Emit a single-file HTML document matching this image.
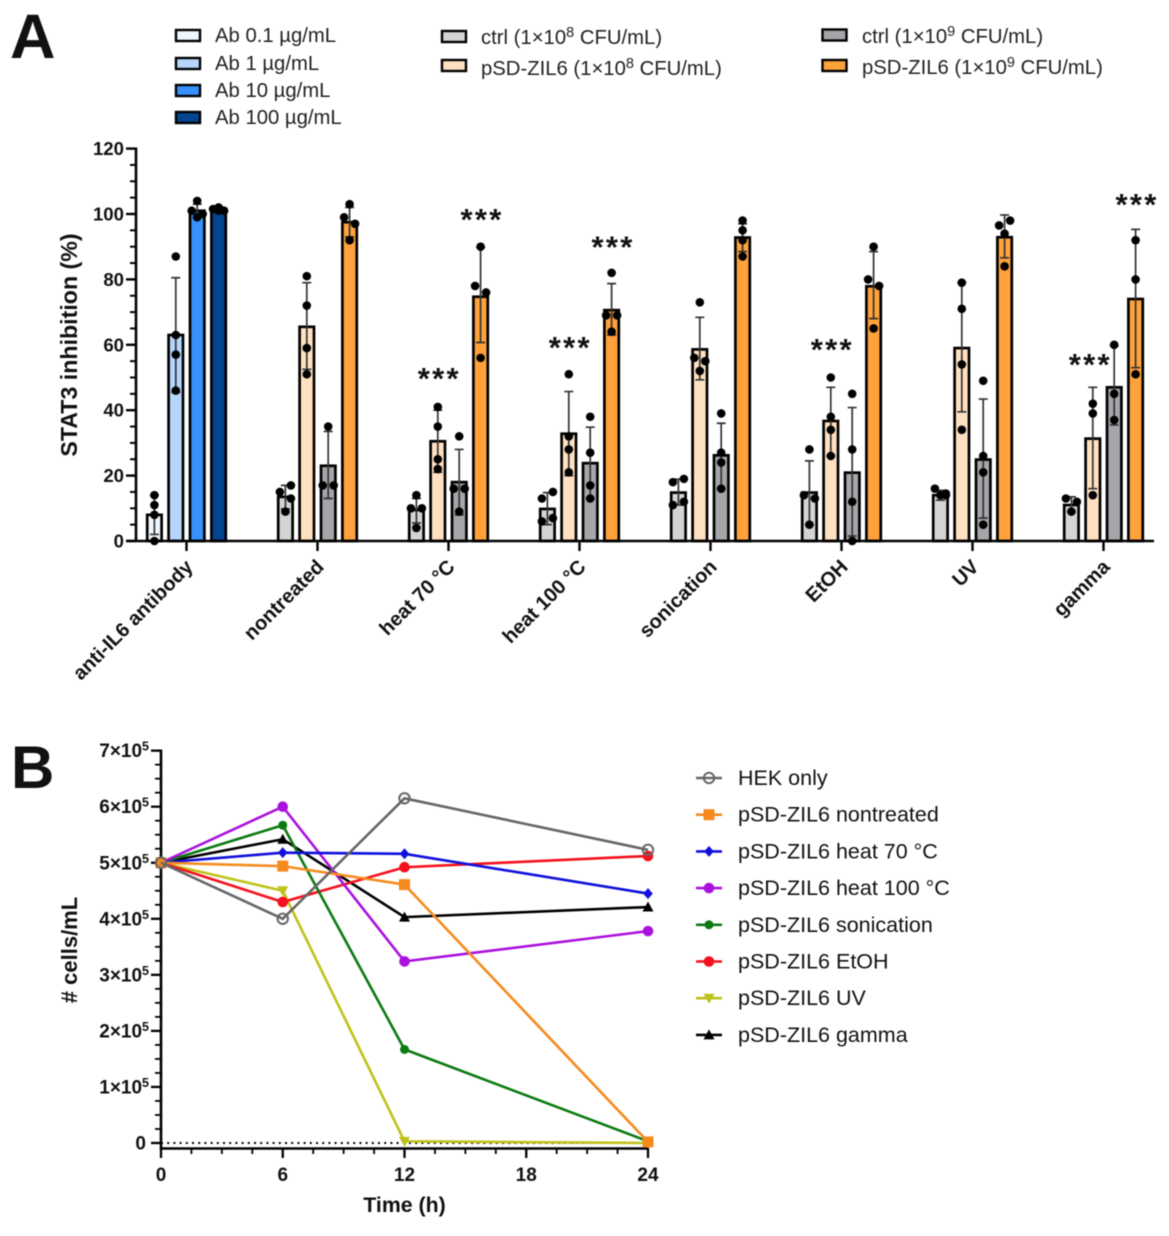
<!DOCTYPE html>
<html lang="en">
<head>
<meta charset="utf-8">
<title>STAT3 inhibition and cell counts</title>
<style>
html,body{margin:0;padding:0;background:#fff;width:1169px;height:1236px;overflow:hidden}
svg{display:block;filter:blur(0.6px)}
text{font-family:"Liberation Sans",sans-serif;fill:#111}
.b{font-weight:bold}
.lg{font-size:20.3px;fill:#222}
</style>
</head>
<body>
<svg id="fig" xmlns="http://www.w3.org/2000/svg" width="1169" height="1236" viewBox="0 0 1169 1236">
  <text class="b" x="10" y="58" font-size="63">A</text>
  <text class="b" x="11" y="788" font-size="60">B</text>

  <g stroke="#000" stroke-width="2.4">
    <rect x="176" y="30" width="24" height="11" fill="#eef6fd"/>
    <rect x="176" y="58" width="24" height="11" fill="#b5d5fb"/>
    <rect x="176" y="85" width="24" height="11" fill="#3790fb"/>
    <rect x="176" y="112" width="24" height="11" fill="#05458f"/>
    <rect x="442" y="31" width="24" height="11" fill="#d4d4d4"/>
    <rect x="442" y="60" width="24" height="11" fill="#ffe0c0"/>
    <rect x="822.5" y="29.5" width="24" height="11" fill="#a5a5aa"/>
    <rect x="822.5" y="60" width="24" height="11" fill="#ffa23c"/>
  </g>
  <g>
    <text class="lg" x="215" y="42">Ab 0.1 µg/mL</text>
    <text class="lg" x="215" y="70">Ab 1 µg/mL</text>
    <text class="lg" x="215" y="97">Ab 10 µg/mL</text>
    <text class="lg" x="215" y="124">Ab 100 µg/mL</text>
    <text class="lg" x="481" y="44">ctrl (1×10<tspan font-size="14.5" dy="-7">8</tspan><tspan dy="7"> CFU/mL)</tspan></text>
    <text class="lg" x="481" y="75">pSD-ZIL6 (1×10<tspan font-size="14.5" dy="-7">8</tspan><tspan dy="7"> CFU/mL)</tspan></text>
    <text class="lg" x="862" y="43">ctrl (1×10<tspan font-size="14.5" dy="-7">9</tspan><tspan dy="7"> CFU/mL)</tspan></text>
    <text class="lg" x="862" y="74">pSD-ZIL6 (1×10<tspan font-size="14.5" dy="-7">9</tspan><tspan dy="7"> CFU/mL)</tspan></text>
  </g>
  <g id="chartA"></g>
  <g id="chartB"></g>
  <g id="legendB"></g>
</svg>
<script>
/* ---------- Panel A data ---------- */
const categoriesA = ['anti-IL6 antibody','nontreated','heat 70 °C','heat 100 °C','sonication','EtOH','UV','gamma'];
const yTicksA = [0,20,40,60,80,100,120];
const barFillsAb = ['#eef6fd','#b5d5fb','#3790fb','#05458f'];
const barFillsTreated = ['#d4d4d4','#ffe0c0','#a5a5aa','#ffa23c'];
const barMeans = [
  [8,63,101,101.5],[13.5,65.5,23,97.5],[9.5,30.5,18,74.7],[9.8,32.8,23.8,70.6],
  [14.8,58.6,26.2,92.8],[14.8,36.7,20.9,77.9],[14,59,24.9,92.9],[11,31.3,47,74]
];
const errLow = [
  [2,45.5,99,100.8],[9.8,52.5,13,93],[5.5,21,8,60.7],[5,20,13,63],
  [11,49.3,16,88.5],[5,26,1.5,68],[12.5,39.5,7,86.6],[9,16,35.5,53]
];
const errHigh = [
  [14,80.5,103,102.2],[17,79,33.5,102],[13,40,28,89.8],[14.8,45.7,34.8,78.7],
  [18.9,68.4,36,97],[24.5,47,40.8,88.5],[15.5,79,43.4,99.7],[13.5,47,59.7,95.3]
];
const dotValues = [
  [[14,11,8,0],[87,63,57,46],[104,101,100,99],[102,101.5,101,101]],
  [[15,17,13,9],[81,72,59,51],[35,17,17],[103,99,97,92]],
  [[14,10,10,4],[41,35,25,22],[32,16,16,9],[90,78,76,56]],
  [[13,15,7,6],[51,32,28,21],[38,27,17,13],[82,69,69,64]],
  [[18,19,12,11],[73,56,55,52],[39,27,24,16],[98,95,92,87]],
  [[28,14,13,5],[50,38,34,26],[45,28,12,0],[90,80,78,65]],
  [[16,14.5,14,14],[79,71,54,34],[49,26,21,5],[96.5,98,94,84]],
  [[13,12,9],[42,39,14],[60,45,37],[92,80,51]]
];
/* swarm side of each dot: -1 left, 0 centre, 1 right */
const dotSides = [
  [[0,0,0,0],[0,0,0,0],[0,-1,1,0],[0,-1,1,0]],
  [[-1,1,1,0],[0,0,0,0],[0,-1,1],[0,-1,1,0]],
  [[0,-1,1,0],[0,0,0,0],[0,-1,1,0],[0,-1,1,0]],
  [[-1,1,1,-1],[0,0,0,0],[0,0,0,0],[0,-1,1,0]],
  [[-1,1,1,-1],[0,-1,1,0],[0,0,0,0],[0,0,0,0]],
  [[0,-1,1,0],[0,0,0,0],[0,0,0,0],[0,-1,1,0]],
  [[-1,1,0,1],[0,0,0,0],[0,0,0,0],[-1,1,0,0]],
  [[-1,1,0],[0,0,0],[0,0,0],[0,0,0]]
];
const starGroups = [2,2,3,3,5,7,7];
const starBars = [1,3,1,3,1,1,3];
const starValues = [50.8,99.4,60.2,91,59.6,55,104];

/* ---------- Panel B data ---------- */
const timePoints = [0,6,12,24];
const xTicksB = [0,6,12,18,24];
const yTicksB = [0,1,2,3,4,5,6,7];
const seriesNames = ['HEK only','pSD-ZIL6 nontreated','pSD-ZIL6 heat 70 °C','pSD-ZIL6 heat 100 °C','pSD-ZIL6 sonication','pSD-ZIL6 EtOH','pSD-ZIL6 UV','pSD-ZIL6 gamma'];
const seriesColors = ['#666666','#f58a1f','#1010dc','#aa11dd','#0c7a12','#f4101c','#bfc21a','#000000'];
const seriesMarkers = ['ring','square','diamond','circle','smallCircle','circle','triDown','triUp'];
const hekOnly = [5,4.0,6.15,5.23];
const nontreated = [5,4.94,4.61,0.02];
const heat70 = [5,5.18,5.16,4.45];
const heat100 = [5,6.0,3.24,3.78];
const sonication = [5,5.67,1.67,0.03];
const etoh = [5,4.3,4.92,5.12];
const uv = [5,4.5,0.03,0];
const gamma = [5,5.42,4.03,4.21];
const seriesValues = [hekOnly,nontreated,heat70,heat100,sonication,etoh,uv,gamma];

/* ---------- helpers ---------- */
const NS = 'http://www.w3.org/2000/svg';
function make(parent, tag, props, txt){
  const n = document.createElementNS(NS, tag);
  for (const k in props) n.setAttribute(k, props[k]);
  if (txt !== undefined) n.textContent = txt;
  parent.appendChild(n);
  return n;
}
const slug = s => s.toLowerCase().replace(/[^a-z0-9]+/g,'-').replace(/^-|-$/g,'');

/* ---------- Panel A ---------- */
const A = document.getElementById('chartA');
const yA = v => 541 - v * 3.27;
const groupX = g => 186.5 + g * 131;
const barX = (g,b) => groupX(g) + (b - 1.5) * 21.4;

barMeans.forEach((group, g) => {
  group.forEach((mean, b) => {
    const cx = barX(g,b);
    const fill = (g === 0 ? barFillsAb : barFillsTreated)[b];
    const bar = make(A,'rect',{x:cx-7.2,y:yA(mean),width:14.4,height:yA(0)-yA(mean),fill:fill,stroke:'#000','stroke-width':2.7});
    
    
    const err = make(A,'path',{d:`M${cx} ${yA(errLow[g][b])}V${yA(errHigh[g][b])}M${cx-4.5} ${yA(errLow[g][b])}h9M${cx-4.5} ${yA(errHigh[g][b])}h9`,fill:'none',stroke:'#333','stroke-width':1.7});
    
    
    dotValues[g][b].forEach((v, i) => {
      const dot = make(A,'circle',{cx:cx+dotSides[g][b][i]*5.5,cy:yA(v),r:4.3,fill:'#000'});
      
      
    });
  });
});

const xAxisA = make(A,'line',{x1:126,x2:1154,y1:541,y2:541,stroke:'#000','stroke-width':2.6});


const yAxisA = make(A,'line',{x1:136,x2:136,y1:147.5,y2:542,stroke:'#000','stroke-width':2.6});



yTicksA.forEach((v, i) => {
  const t = make(A,'line',{x1:126,x2:136,y1:yA(v),y2:yA(v),stroke:'#000','stroke-width':2.4});
  
  
  const l = make(A,'text',{x:124,y:yA(v)+6.5,'text-anchor':'end','font-size':18.6,'font-weight':'bold'},String(v));
  
  
  if (i < yTicksA.length - 1) {
    const step = (yTicksA[i+1] - v) / 4;
    [1,2,3].forEach(k => {
      const m = make(A,'line',{x1:130,x2:136,y1:yA(v+k*step),y2:yA(v+k*step),stroke:'#000','stroke-width':2});
      
      
    });
  }
});

categoriesA.forEach((c, g) => {
  const t = make(A,'line',{x1:groupX(g),x2:groupX(g),y1:541,y2:551,stroke:'#000','stroke-width':2.4});
  
  
  const px = groupX(g) + 7.5, py = 568;
  const l = make(A,'text',{x:px,y:py,'text-anchor':'end','font-size':20,'font-weight':'bold',transform:`rotate(-45 ${px} ${py})`},c);
  
  
});

const yTitleA = make(A,'text',{x:77,y:345,'text-anchor':'middle','font-size':23.2,'font-weight':'bold',transform:'rotate(-90 77 345)'},'STAT3 inhibition (%)');



starValues.forEach((v, i) => {
  const s = make(A,'text',{x:barX(starGroups[i],starBars[i])+1.5+(starGroups[i]===7&&starBars[i]===1?-4:0),y:yA(v)+14,'text-anchor':'middle','font-size':31,'font-weight':'bold','letter-spacing':'2.3px'},'***');
  
  
});

/* ---------- Panel B ---------- */
const B = document.getElementById('chartB');
const xB = t => 161 + t * (487 / 24);
const yB = v => 1143 - v * 56.05;

function marker(parent, kind, x, y, color){
  if (kind === 'ring') return make(parent,'circle',{cx:x,cy:y,r:5.2,fill:'none',stroke:color,'stroke-width':2});
  if (kind === 'square') return make(parent,'rect',{x:x-5.5,y:y-5.5,width:11,height:11,fill:color});
  if (kind === 'diamond') return make(parent,'path',{d:`M${x} ${y-5.5}L${x+4.8} ${y}L${x} ${y+5.5}L${x-4.8} ${y}Z`,fill:color});
  if (kind === 'circle') return make(parent,'circle',{cx:x,cy:y,r:5.3,fill:color});
  if (kind === 'smallCircle') return make(parent,'circle',{cx:x,cy:y,r:4.5,fill:color});
  if (kind === 'triDown') return make(parent,'path',{d:`M${x-5.5} ${y-4.5}H${x+5.5}L${x} ${y+5.5}Z`,fill:color});
  return make(parent,'path',{d:`M${x-5.5} ${y+4.5}H${x+5.5}L${x} ${y-5.5}Z`,fill:color});
}

const zeroLine = make(B,'line',{x1:xB(0),x2:xB(24),y1:yB(0),y2:yB(0),stroke:'#000','stroke-width':2,'stroke-dasharray':'2 4.2'});



const xAxisB = make(B,'line',{x1:161,x2:649,y1:1148.5,y2:1148.5,stroke:'#000','stroke-width':2.6});


const yAxisB = make(B,'line',{x1:161,x2:161,y1:yB(7)-1,y2:1149.5,stroke:'#000','stroke-width':2.6});



yTicksB.forEach((v, i) => {
  const t = make(B,'line',{x1:151,x2:161,y1:yB(v),y2:yB(v),stroke:'#000','stroke-width':2.3});
  
  
  const l = make(B,'text',{x:v===0?146:149,y:yB(v)+6.5,'text-anchor':'end','font-size':19,'font-weight':'bold'});
  
  
  if (v === 0) { l.textContent = '0'; }
  else {
    make(l,'tspan',{},v + '×10');
    make(l,'tspan',{'font-size':12.5,dy:-6.5},'5');
  }
  if (i < yTicksB.length - 1) {
    [0.25,0.5,0.75].forEach(k => {
      const m = make(B,'line',{x1:155,x2:161,y1:yB(v+k),y2:yB(v+k),stroke:'#000','stroke-width':1.8});
      
      
    });
  }
});

xTicksB.forEach((v, i) => {
  const t = make(B,'line',{x1:xB(v),x2:xB(v),y1:1148,y2:1158,stroke:'#000','stroke-width':2.3});
  
  
  const l = make(B,'text',{x:xB(v),y:1181,'text-anchor':'middle','font-size':19,'font-weight':'bold'},String(v));
  
  
  if (i < xTicksB.length - 1) {
    [0.25,0.5,0.75].forEach(k => {
      const tv = v + k * (xTicksB[i+1] - v);
      const m = make(B,'line',{x1:xB(tv),x2:xB(tv),y1:1148,y2:1154,stroke:'#000','stroke-width':1.8});
      
      
    });
  }
});

const yTitleB = make(B,'text',{x:77,y:950,'text-anchor':'middle','font-size':22,'font-weight':'bold',transform:'rotate(-90 77 950)'},'# cells/mL');


const xTitleB = make(B,'text',{x:404.5,y:1212,'text-anchor':'middle','font-size':21.3,'font-weight':'bold'},'Time (h)');



for (let s = seriesValues.length - 1; s >= 0; s--) {
  const vals = seriesValues[s];
  const g = make(B,'g',{});
  
  
  const line = make(g,'polyline',{points:vals.map((v,i)=>xB(timePoints[i])+','+yB(v)).join(' '),fill:'none',stroke:seriesColors[s],'stroke-width':2.6});
  
  
  vals.forEach((v,i) => {
    const p = marker(g, seriesMarkers[s], xB(timePoints[i]), yB(v), seriesColors[s]);
    
    
  });
}

const LB = document.getElementById('legendB');
seriesNames.forEach((name, s) => {
  const y = 778 + s * 36.7;
  const line = make(LB,'line',{x1:696,x2:722,y1:y,y2:y,stroke:seriesColors[s],'stroke-width':2.6});
  
  
  const m = marker(LB, seriesMarkers[s], 709, y, seriesColors[s]);
  
  
  const t = make(LB,'text',{x:738,y:y+7,'font-size':21.5,fill:'#222'},name);
  
  
});
</script>
</body>
</html>
